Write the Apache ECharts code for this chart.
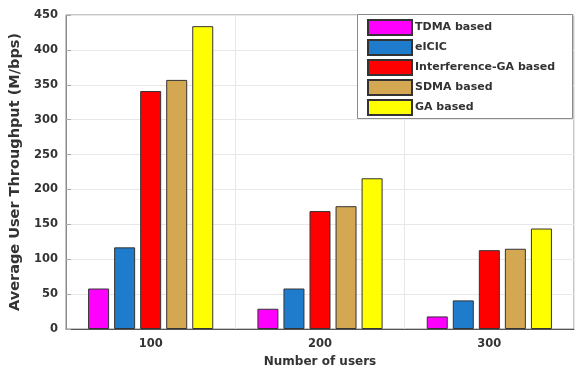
<!DOCTYPE html>
<html><head><meta charset="utf-8">
<script src="https://cdn.jsdelivr.net/npm/echarts@6/dist/echarts.min.js"></script>
<style>html,body{margin:0;padding:0;background:#fff}#c{width:578px;height:367px}</style>
</head><body><div id="c"></div>
<script>
const categories = ['100', '200', '300'];
const seriesNames = ['TDMA based', 'eICIC', 'Interference-GA based', 'SDMA based', 'GA based'];
const tdma = [58, 29, 18];
const eicic = [117, 58, 41];
const interferenceGA = [341, 169, 113];
const sdma = [357, 176, 115];
const gaBased = [434, 216, 144];
const yTicks = [0, 50, 100, 150, 200, 250, 300, 350, 400, 450];

const colors = ['#ff00ff', '#1f7ccc', '#ff0000', '#d4a852', '#ffff00'];
const values = [tdma, eicic, interferenceGA, sdma, gaBased];
const font = 'DejaVu Sans, sans-serif';

const chart = echarts.init(document.getElementById('c'), null, {renderer: 'canvas'});
chart.setOption({
  animation: false,
  backgroundColor: '#fff',
  grid: {left: 66, right: 4, top: 15, bottom: 38, show: true, borderColor: '#8a8a8a', borderWidth: 1,
    backgroundColor: 'transparent', containLabel: false, outerBoundsMode: 'none'},
  legend: {
    orient: 'vertical', left: 362, top: 14, itemWidth: 44, itemHeight: 15, itemGap: 3,
    icon: 'rect', z: 20,
    textStyle: {fontFamily: font, fontWeight: 'bold', fontSize: 11, color: '#333', padding: [0, 0, 0, -2], lineHeight: 15},
    data: seriesNames
  },
  graphic: [{type: 'rect', z: 10, shape: {x: 357.5, y: 14.5, width: 215, height: 104}, style: {fill: '#fff', stroke: '#8a8a8a', lineWidth: 1}}],
  xAxis: {
    type: 'category', data: categories,
    name: 'Number of users', nameLocation: 'middle', nameGap: 27,
    nameTextStyle: {fontFamily: font, fontWeight: 'bold', fontSize: 12, color: '#333'},
    axisLine: {lineStyle: {color: '#555'}},
    axisTick: {show: true, inside: true, alignWithLabel: true, lineStyle: {color: '#aaa'}},
    axisLabel: {fontFamily: font, fontWeight: 'bold', fontSize: 11.5, color: '#333', margin: 9},
    splitLine: {show: true, lineStyle: {color: '#e8e8e8'}}
  },
  yAxis: {
    type: 'value', min: 0, max: 450, interval: 50,
    name: 'Average User Throughput (M/bps)', nameLocation: 'middle', nameGap: 39,
    nameTextStyle: {fontFamily: font, fontWeight: 'bold', fontSize: 14.5, color: '#333'},
    axisLine: {show: true, lineStyle: {color: '#8a8a8a'}},
    axisTick: {show: true, inside: true, lineStyle: {color: '#aaa'}},
    axisLabel: {fontFamily: font, fontWeight: 'bold', fontSize: 11.5, color: '#333', margin: 8,
      formatter: v => yTicks.includes(v) ? String(v) : ''},
    splitLine: {show: true, lineStyle: {color: '#e8e8e8'}}
  },
  series: seriesNames.map((n, i) => ({
    name: n, type: 'bar', data: values[i], barWidth: 21, barGap: '24%',
    itemStyle: {color: colors[i], borderColor: '#333', borderWidth: 1},
    z: 3
  }))
});
</script></body></html>
